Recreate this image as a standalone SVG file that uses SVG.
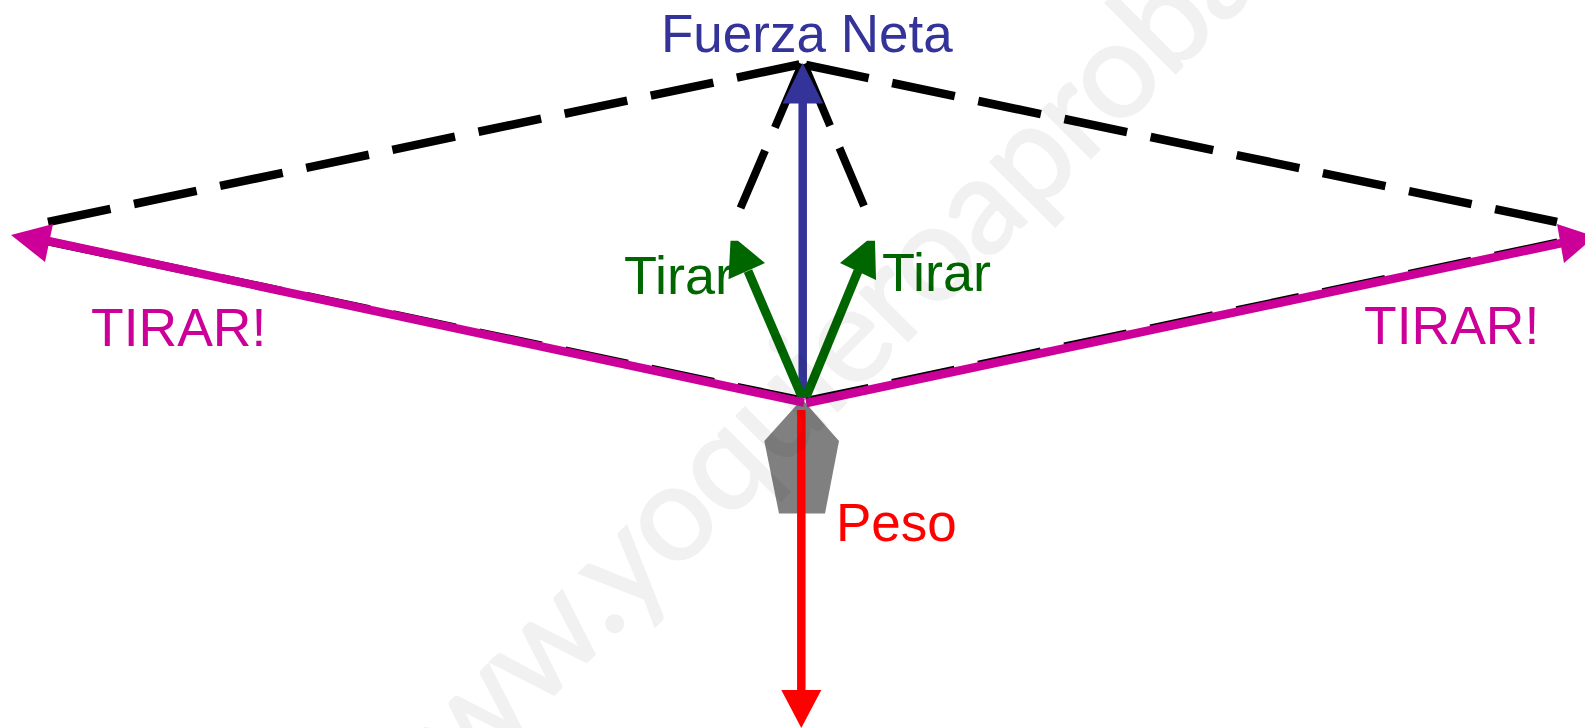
<svg xmlns="http://www.w3.org/2000/svg" width="1585" height="728" viewBox="0 0 1585 728">
<style>
text{font-family:"Liberation Sans",Arial,Helvetica,sans-serif;font-size:53px}
.d{fill:none;stroke:#000;stroke-width:8.5;stroke-dasharray:64 24}
.l{fill:none;stroke:#000;stroke-width:8;stroke-dasharray:64 24}
.b{fill:none;stroke:#000;stroke-width:8}
.blue{fill:#333399}.green{fill:#006600}.mag{fill:#cc0099}.red{fill:#ff0000}
.wm{font-family:Lato,"Liberation Sans",sans-serif;font-size:135px;letter-spacing:-1.7px;fill:#000;stroke:#000;stroke-width:2;opacity:.05}
</style>
<rect width="1585" height="728" fill="#fff"/>
<g id="connectors">
<path class="d" d="M799.5 64.5L48 222"/>
<path class="d" d="M806 65L1557 222"/>
<path class="b" stroke-dasharray="69 25 64 25" d="M802 64L740.5 208"/>
<path class="b" stroke-dasharray="67 24 64 24" d="M804 64L864 206"/>
<path class="l" d="M800 400L46 241"/>
<path class="l" d="M806 401L1560 242"/>
</g>
<g id="weight"><polygon points="802,399 839,441 825,513.5 779,513.5 764.3,441" fill="#808080"/></g>
<g id="net-force">
<line x1="802.7" y1="100" x2="802.7" y2="398" stroke="#333399" stroke-width="8.5"/>
<polygon class="blue" points="802.7,63 823,103.5 782.7,103.5"/>
<text class="blue" x="661" y="52">Fuerza Neta</text>
</g>
<g id="pull-left">
<line x1="802" y1="397" x2="748" y2="271" stroke="#006600" stroke-width="9"/>
<polygon class="green" points="730.5,240.7 738,240.7 765,263 728.5,279.3"/>
<text class="green" x="624" y="294" style="font-size:54px">Tirar</text>
</g>
<g id="pull-right">
<line x1="806" y1="397" x2="858" y2="271" stroke="#006600" stroke-width="9"/>
<polygon class="green" points="875,240.7 867,240.7 840,263 876,280"/>
<text class="green" x="882" y="291" style="font-size:54px">Tirar</text>
</g>
<g id="tension-left">
<line x1="804" y1="402.7" x2="48" y2="241" stroke="#cc0099" stroke-width="8.5"/>
<polygon class="mag" points="11,235 53,224 45,262"/>
<text class="mag" x="91" y="345.7" style="font-size:53.5px">TIRAR!</text>
</g>
<g id="tension-right">
<line x1="806.5" y1="403" x2="1562" y2="243" stroke="#cc0099" stroke-width="8.5"/>
<polygon class="mag" points="1595,236.5 1557,224 1564,263"/>
<text class="mag" x="1364" y="344.3" style="font-size:53.5px">TIRAR!</text>
</g>
<g id="weight-force">
<line x1="801.3" y1="410" x2="801.3" y2="692" stroke="#ff0000" stroke-width="8.5"/>
<polygon class="red" points="781.3,690 821.3,690 801.3,728"/>
<text class="red" x="836" y="540.7">Peso</text>
</g>
<text class="wm" transform="translate(389.5 859.5) rotate(-45)">www.yoquieroaprobar.es</text>
</svg>
